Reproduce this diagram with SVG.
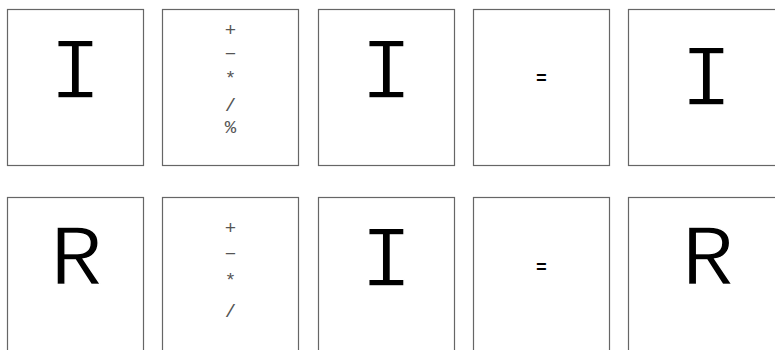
<svg xmlns="http://www.w3.org/2000/svg" width="775" height="350" viewBox="0 0 775 350">
<style>
.box{fill:#fff;stroke:#666;stroke-width:1.2}
.big{font-family:"Liberation Mono","Courier New",monospace;font-size:88px;fill:#000;text-anchor:middle;stroke:#fff;stroke-width:1.4}
.op{font-family:"Liberation Mono","Courier New",monospace;font-size:19px;fill:#555;text-anchor:middle}
.eq{font-family:"Liberation Mono","Courier New",monospace;font-size:18px;font-weight:bold;fill:#000;text-anchor:middle}
</style>
<rect width="775" height="350" fill="#fff"/>
<g id="r1c1"><rect class="box" x="7.5" y="9.5" width="136" height="156"/><text class="big" x="75.5" y="98">I</text></g>
<g id="r1c2"><rect class="box" x="162.5" y="9.5" width="136" height="156"/>
<text class="op" x="230.5" y="36">+</text><text class="op" x="230.5" y="60">−</text><text class="op" x="230.5" y="84">*</text><text class="op" x="230.5" y="111">/</text><text class="op" x="230.5" y="133">%</text></g>
<g id="r1c3"><rect class="box" x="318.5" y="9.5" width="136" height="156"/><text class="big" x="386.5" y="98">I</text></g>
<g id="r1c4"><rect class="box" x="473.5" y="9.5" width="136" height="156"/><text class="eq" x="541.5" y="84">=</text></g>
<g id="r1c5"><rect class="box" x="628.5" y="9.5" width="156" height="156"/><text class="big" x="706.5" y="105">I</text></g>
<g id="r2c1"><rect class="box" x="7.5" y="197.5" width="136" height="160"/><text class="big" x="76.5" y="285">R</text></g>
<g id="r2c2"><rect class="box" x="162.5" y="197.5" width="136" height="160"/>
<text class="op" x="230.5" y="234">+</text><text class="op" x="230.5" y="260">−</text><text class="op" x="230.5" y="286">*</text><text class="op" x="230.5" y="317">/</text></g>
<g id="r2c3"><rect class="box" x="318.5" y="197.5" width="136" height="160"/><text class="big" x="386.5" y="286">I</text></g>
<g id="r2c4"><rect class="box" x="473.5" y="197.5" width="136" height="160"/><text class="eq" x="541.5" y="273">=</text></g>
<g id="r2c5"><rect class="box" x="628.5" y="197.5" width="156" height="160"/><text class="big" x="708" y="285">R</text></g>
</svg>
